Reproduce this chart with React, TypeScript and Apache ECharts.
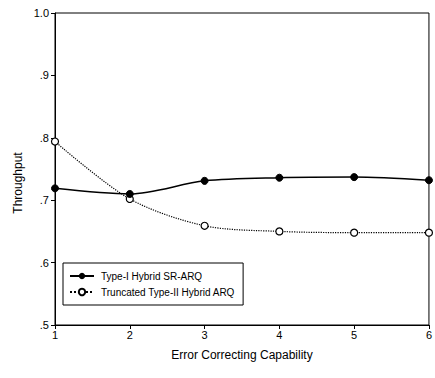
import React, { useEffect, useRef } from "react";
import * as echarts from "echarts";

const capabilities = [1, 2, 3, 4, 5, 6];
const typeIHybrid = [0.719, 0.710, 0.731, 0.736, 0.737, 0.732];
const truncatedTypeII = [0.794, 0.702, 0.659, 0.650, 0.648, 0.648];
const seriesNames = ["Type-I Hybrid SR-ARQ", "Truncated Type-II Hybrid ARQ"];

const FONT = "'Liberation Sans Narrow', 'Liberation Sans', Arial, sans-serif";

export default function App() {
  const ref = useRef<HTMLDivElement>(null);
  useEffect(() => {
    if (!ref.current) return;
    const chart = echarts.init(ref.current, undefined, { renderer: "svg" });
    chart.setOption({
      animation: false,
      backgroundColor: "#ffffff",
      grid: {
        left: 55,
        right: 5,
        top: 13,
        bottom: 53,
        show: true,
        borderColor: "#000",
        borderWidth: 1,
        backgroundColor: "transparent",
      },
      legend: {
        orient: "vertical",
        left: 63,
        top: 263,
        itemGap: 6,
        itemWidth: 24,
        itemHeight: 8,
        padding: [8, 8, 8, 6],
        borderColor: "#000",
        borderWidth: 1,
        backgroundColor: "#fff",
        textStyle: { fontFamily: FONT, fontSize: 10, color: "#000", padding: [0, 0, 0, 2] },
        data: seriesNames,
      },
      graphic: [
        {
          type: "text",
          x: 18,
          y: 183,
          rotation: Math.PI / 2,
          style: {
            text: "Throughput",
            fontFamily: FONT,
            fontSize: 12,
            fill: "#000",
            align: "center",
            verticalAlign: "middle",
          },
        },
      ],
      xAxis: {
        type: "value",
        min: 1,
        max: 6,
        interval: 1,
        name: "Error Correcting Capability",
        nameLocation: "middle",
        nameGap: 24,
        nameTextStyle: { fontFamily: FONT, fontSize: 12, color: "#000" },
        axisLine: { lineStyle: { color: "#000", width: 1 } },
        axisTick: { show: true, length: 4, lineStyle: { color: "#000" } },
        axisLabel: { fontFamily: FONT, fontSize: 11, color: "#000", margin: 4 },
        splitLine: { show: false },
      },
      yAxis: {
        type: "value",
        min: 0.5,
        max: 1.0,
        interval: 0.1,
        axisLine: { lineStyle: { color: "#000", width: 1 } },
        axisTick: { show: true, length: 4, lineStyle: { color: "#000" } },
        axisLabel: {
          fontFamily: FONT,
          fontSize: 11,
          color: "#000",
          margin: 6,
          formatter: (v: number) => {
            const r = Math.round(v * 10) / 10;
            if (r >= 1) return "1.0";
            return "." + Math.round(r * 10);
          },
        },
        splitLine: { show: false },
      },
      series: [
        {
          name: seriesNames[0],
          type: "line",
          data: capabilities.map((c, i) => [c, typeIHybrid[i]]),
          smooth: 0.3,
          symbol: "circle",
          symbolSize: 7,
          itemStyle: { color: "#000", borderColor: "#000" },
          lineStyle: { color: "#000", width: 1.5 },
          z: 3,
        },
        {
          name: seriesNames[1],
          type: "line",
          data: capabilities.map((c, i) => [c, truncatedTypeII[i]]),
          smooth: 0.3,
          symbol: "circle",
          symbolSize: 7,
          itemStyle: { color: "#fff", borderColor: "#000", borderWidth: 1.2 },
          lineStyle: { color: "#000", width: 1.2, type: "dotted" },
          z: 2,
        },
      ],
    });
    return () => chart.dispose();
  }, []);
  return (
    <div
      ref={ref}
      style={{ position: "fixed", left: 0, top: 0, width: 435, height: 378 }}
    />
  );
}
